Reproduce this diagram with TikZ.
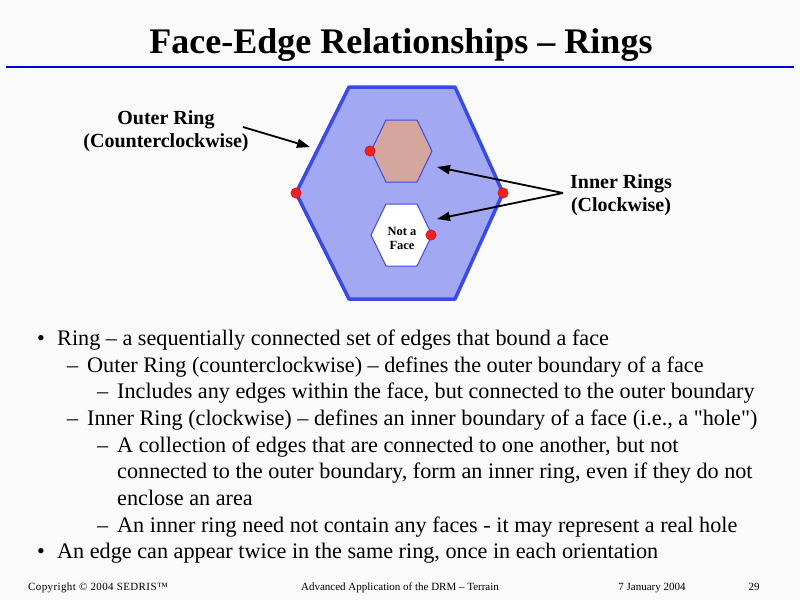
\documentclass[tikz,border=0pt]{standalone}
\usepackage{fontspec}
\setmainfont{Liberation Serif}[Ligatures=TeXOff]
\usetikzlibrary{arrows.meta,shadings}
\definecolor{bgc}{HTML}{FAFAFA}
\definecolor{rulec}{HTML}{0000DD}
\definecolor{hexfill}{HTML}{A2A8F2}
\definecolor{hexline}{HTML}{3A4AE6}
\definecolor{pinkfill}{HTML}{D4A69E}
\definecolor{dotred}{HTML}{EE2222}
\tikzset{
  body/.style={anchor=base west, inner sep=0pt, font=\fontsize{22.2}{26}\selectfont},
  lbl/.style={align=center, inner sep=0pt, font=\fontsize{20}{23}\selectfont\bfseries},
  foot/.style={anchor=base, inner sep=0pt, font=\fontsize{11}{13}\selectfont},
  ptr/.style={-{Triangle[length=13pt,width=9pt]}, line width=1.8pt, black},
  dot/.style={circle, inner sep=0pt, minimum size=10.5pt, fill=dotred, draw=red!70!black, line width=0.3pt},
}
\begin{document}
\begin{tikzpicture}[x=1pt,y=-1pt]
\fill[bgc] (0,0) rectangle (800,600);
\useasboundingbox (0,0) rectangle (800,600);
% title
\node[anchor=base, inner sep=0pt, font=\fontsize{36}{40}\selectfont\bfseries] (title) at (401,53) {Face-Edge Relationships – Rings};
\draw[rulec, line width=2.2pt] (6,67) coordinate (r1) -- (794,67) coordinate (r2);
% outer hexagon
\draw[hexline, fill=hexfill, line width=3.5pt, line join=round]
  (349,87) -- (455,87) -- (503,193) -- (455,299) -- (349,299) -- (296,193) -- cycle;
% inner hexagons
\draw[hexline, fill=pinkfill, line width=1pt] (386,120) -- (417,120) -- (432,151) -- (417,182) -- (386,182) -- (371,151) -- cycle;
\draw[hexline, fill=white, line width=1pt] (386,204) -- (417,204) -- (432,235) -- (417,266) -- (386,266) -- (371,235) -- cycle;
\node[align=center, inner sep=0pt, font=\fontsize{12.5}{14}\selectfont\bfseries] (naf) at (402,238) {Not a\\Face};
% red dots
\node[dot] (d1) at (296,193) {};
\node[dot] (d2) at (503,193) {};
\node[dot] (d3) at (370,151) {};
\node[dot] (d4) at (431,235) {};
% labels
\node[lbl] (outer) at (166,131) {Outer Ring\\(Counterclockwise)};
\node[lbl] (inner) at (621,195) {Inner Rings\\(Clockwise)};
\coordinate (oa) at (243,127);
\coordinate (ot) at (310,147);
\coordinate (ia) at (563,193);
\coordinate (it1) at (437,167);
\coordinate (it2) at (437,219);
\draw[ptr] (oa) -- (ot);
\draw[ptr] (ia) -- (it1);
\draw[ptr] (ia) -- (it2);
% bullet text
\node[body] (b1) at (37,345) {•};
\node[body] (t1) at (57,345) {Ring – a sequentially connected set of edges that bound a face};
\node[body] (b2) at (67,372) {–};
\node[body] (t2) at (87,372) {Outer Ring (counterclockwise) – defines the outer boundary of a face};
\node[body] (b3) at (97,398) {–};
\node[body] (t3) at (117,398) {Includes any edges within the face, but connected to the outer boundary};
\node[body] (b4) at (67,425) {–};
\node[body] (t4) at (87,425) {Inner Ring (clockwise) – defines an inner boundary of a face (i.e., a "hole")};
\node[body] (b5) at (97,452) {–};
\node[body] (t5) at (117,452) {A collection of edges that are connected to one another, but not};
\node[body] (t6) at (117,478) {connected to the outer boundary, form an inner ring, even if they do not};
\node[body] (t7) at (117,505) {enclose an area};
\node[body] (b8) at (97,532) {–};
\node[body] (t8) at (117,532) {An inner ring need not contain any faces - it may represent a real hole};
\node[body] (b9) at (37,558) {•};
\node[body] (t9) at (57,558) {An edge can appear twice in the same ring, once in each orientation};
% footer
\node[foot, anchor=base west, font=\fontsize{11}{13}\selectfont\addfontfeature{LetterSpace=3.5}] (f1) at (28,590) {Copyright © 2004 SEDRIS™};
\node[foot] (f2) at (400,590) {Advanced Application of the DRM – Terrain};
\node[foot] (f3) at (652,590) {7 January 2004};
\node[foot] (f4) at (754,590) {29};
\end{tikzpicture}
\end{document}
